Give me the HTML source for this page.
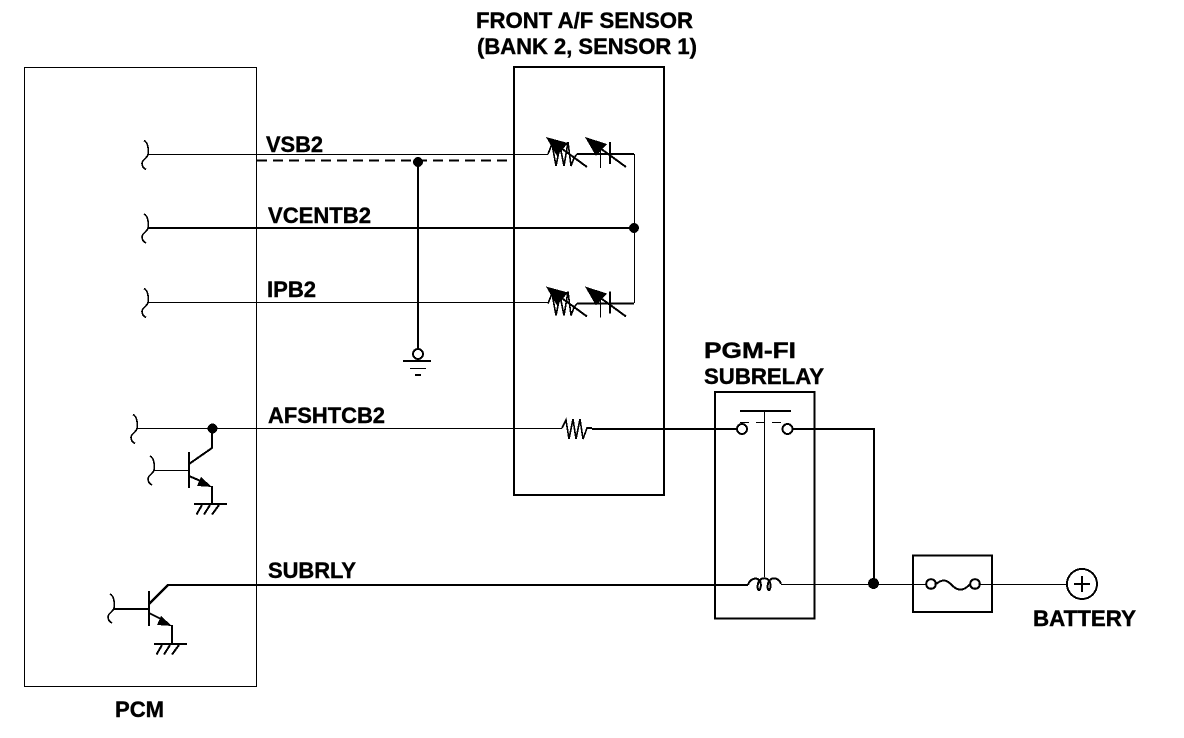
<!DOCTYPE html>
<html><head><meta charset="utf-8"><style>
html,body{margin:0;padding:0;background:#fff}
svg{display:block;shape-rendering:crispEdges}
text{font-family:"Liberation Sans",sans-serif;font-weight:bold;font-size:22px;fill:#000;stroke:#000;stroke-width:.4}
.t{fill:none;stroke:#000;stroke-width:1.2}
.c{fill:none;stroke:#000;stroke-width:1.6}
.m{fill:none;stroke:#000;stroke-width:2}
.k{fill:none;stroke:#000;stroke-width:2.4}
.f{fill:#000;stroke:none}
</style></head><body>
<svg width="1184" height="738" viewBox="0 0 1184 738" xmlns="http://www.w3.org/2000/svg">
<defs>
<path id="w" d="M-4,-14 C0,-12 1,-5 0,0 C-1,4 -6,5 -6,9 C-6,12 -4,14 -2,15" class="c"/>
<g id="el">
<polyline class="c" points="548,154 552,144 556,166 560,146 564,166 568,142 571,166 574,158 577,154"/>
<line class="k" x1="577" y1="154" x2="634" y2="154"/>
<line class="m" x1="550" y1="140" x2="587" y2="167"/>
<polygon class="f" points="546,137 568,143 557,156"/>
<line class="m" x1="589" y1="140" x2="626" y2="167"/>
<polygon class="f" points="585,137 607,144 596,156"/>
<line class="t" x1="600.5" y1="142" x2="600.5" y2="168"/>
<line class="m" x1="610" y1="142" x2="610" y2="164"/>
</g>
<g id="gnd">
<line class="m" x1="-17" y1="0" x2="16" y2="0"/>
<path class="m" d="M-14.5,10.5 L-9,1 M-7,10.5 L-1,1 M1,10.5 L8,1"/>
</g>
</defs>

<rect class="t" x="24.5" y="67.5" width="232" height="619"/>
<rect class="m" x="514" y="67" width="150" height="428"/>
<rect class="m" x="715" y="392" width="99.5" height="226.5"/>
<rect class="m" x="913" y="555.5" width="79" height="56.5"/>

<line class="t" x1="148" y1="154.5" x2="548" y2="154.5"/>
<use href="#w" x="148" y="154.5"/>
<line class="m" x1="257" y1="160.5" x2="514" y2="160.5" stroke-dasharray="10 6"/>
<line class="k" x1="148" y1="228" x2="634" y2="228"/>
<use href="#w" x="148" y="228"/>
<line class="t" x1="148" y1="302.5" x2="548" y2="302.5"/>
<use href="#w" x="148" y="302.5"/>

<line class="m" x1="418" y1="162" x2="418" y2="349"/>
<circle class="f" cx="418" cy="162" r="5"/>
<circle class="m" cx="418" cy="354" r="5"/>
<line class="m" x1="403" y1="361" x2="431" y2="361"/>
<line class="t" x1="410" y1="368.5" x2="426" y2="368.5"/>
<line class="m" x1="415" y1="375" x2="421" y2="375"/>

<use href="#el"/>
<use href="#el" y="149.5"/>
<line class="t" x1="634.5" y1="154" x2="634.5" y2="303"/>
<circle class="f" cx="634" cy="228" r="5"/>

<!-- AFSHTC -->
<line class="t" x1="137" y1="428.5" x2="562" y2="428.5"/>
<use href="#w" x="137" y="428.5"/>
<circle class="f" cx="212.5" cy="428.5" r="5"/>
<polyline class="m" points="212,428 212,448 189,464"/>
<line class="m" x1="189" y1="452" x2="189" y2="488"/>
<line class="t" x1="153" y1="470.5" x2="189" y2="470.5"/>
<use href="#w" x="154" y="470"/>
<line class="m" x1="189" y1="476" x2="203" y2="482"/>
<polygon class="f" points="212,487 197,486 201,477"/>
<line class="m" x1="212" y1="486" x2="212" y2="503"/>
<use href="#gnd" x="211" y="504"/>
<polyline class="c" points="562,428 566,420 569,439 573,419 576,439 580,419 583,439 587,428 592,428"/>
<line class="k" x1="592" y1="429" x2="737" y2="429"/>
<circle class="m" cx="742" cy="429" r="5"/>
<circle class="m" cx="787.5" cy="429" r="5"/>
<polyline class="k" points="792,429 874,429 874,583"/>
<line class="k" x1="740" y1="411" x2="791" y2="411"/>
<line class="t" x1="764.5" y1="411" x2="764.5" y2="577"/>
<path class="t" d="M740,422.5 H749 M756,422.5 H764 M772,422.5 H781"/>

<!-- SUBRLY -->
<polyline class="k" points="149,604 168,585 748,585"/>
<line class="m" x1="149" y1="591" x2="149" y2="626"/>
<line class="m" x1="113" y1="609" x2="149" y2="609"/>
<use href="#w" x="114" y="608"/>
<line class="m" x1="149" y1="613" x2="163" y2="620"/>
<polygon class="f" points="172,626 157,625 161,616"/>
<line class="m" x1="172" y1="625" x2="172" y2="644"/>
<use href="#gnd" x="171" y="644"/>
<path class="m" d="M748,585 C750,578 757,577 760,581 C762,586 760,590 759,590 C757,590 757,583 760,580 C763,577 768,578 770,582 C771,587 770,590 769,590 C767,590 767,583 770,580 C773,577 779,578 781,584"/>
<line class="t" x1="781" y1="584.5" x2="926" y2="584.5"/>
<circle class="f" cx="873.5" cy="583.5" r="5.5"/>

<!-- fuse -->
<line class="t" x1="980" y1="584.5" x2="1066" y2="584.5"/>
<circle class="m" cx="931" cy="584" r="4.8"/>
<circle class="m" cx="975" cy="584" r="4.8"/>
<path class="m" d="M936,584 C946,576 950,584 954,587 C960,592 966,589 970,584"/>
<circle class="m" cx="1082" cy="584" r="15"/>
<path class="m" d="M1074,584 H1090 M1082,576 V592"/>

<text x="266" y="152" textLength="57" lengthAdjust="spacingAndGlyphs">VSB2</text>
<text x="268" y="223" textLength="103" lengthAdjust="spacingAndGlyphs">VCENTB2</text>
<text x="267" y="297" textLength="49" lengthAdjust="spacingAndGlyphs">IPB2</text>
<text x="268" y="423" textLength="117" lengthAdjust="spacingAndGlyphs">AFSHTCB2</text>
<text x="268" y="578" textLength="88" lengthAdjust="spacingAndGlyphs">SUBRLY</text>
<text x="115" y="717" textLength="49" lengthAdjust="spacingAndGlyphs">PCM</text>
<text x="476" y="28" textLength="217" lengthAdjust="spacingAndGlyphs">FRONT A/F SENSOR</text>
<text x="477" y="54" textLength="220" lengthAdjust="spacingAndGlyphs">(BANK 2, SENSOR 1)</text>
<text x="704" y="358" textLength="92" lengthAdjust="spacingAndGlyphs">PGM-FI</text>
<text x="704" y="384" textLength="120" lengthAdjust="spacingAndGlyphs">SUBRELAY</text>
<text x="1033" y="626" textLength="103" lengthAdjust="spacingAndGlyphs">BATTERY</text>
</svg>
</body></html>
